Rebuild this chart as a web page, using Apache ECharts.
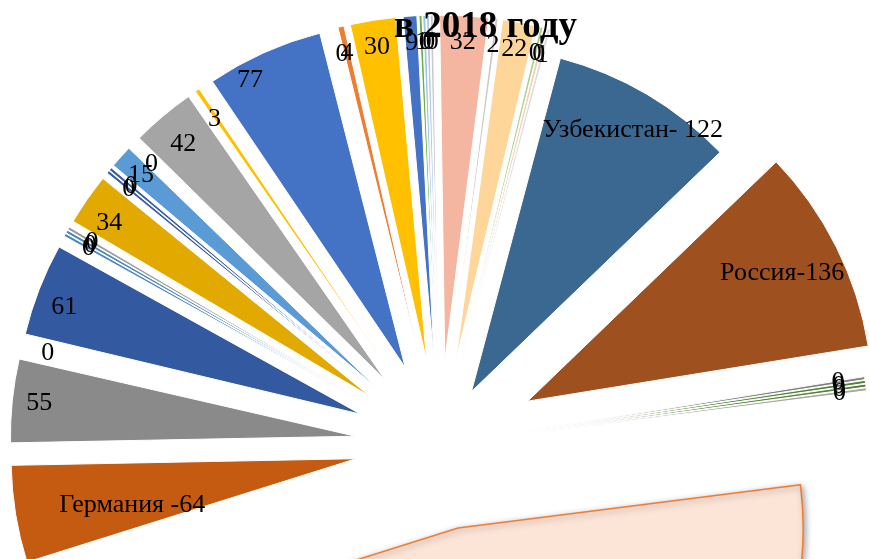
<!DOCTYPE html>
<html>
<head>
<meta charset="utf-8">
<script src="https://cdn.jsdelivr.net/npm/echarts@6.0.0/dist/echarts.min.js"></script>
<style>
  html, body { margin: 0; padding: 0; background: #fff; }
  #chart { width: 870px; height: 559px; }
</style>
</head>
<body>
<div id="chart"></div>
<script>
// Slices clockwise, starting with the large bottom slice (its label is off the picture)
const names = [
    null, 'Германия', null, null, null, null, null, null, null, null,
    null, null, null, null, null, null, null, null, null, null,
    null, null, null, null, null, null, null, null, null, null,
    'Узбекистан', 'Россия', null, null, null, null
];
const values = [
    665, 64, 55, 0, 61, 0, 0, 0, 34, 0,
    0, 15, 0, 42, 3, 77, 0, 4, 30, 9,
    1, 0, 0, 0, 32, 2, 22, 0, 0, 1,
    122, 136, 0, 0, 0, 0
];
const separators = { 'Германия': ' -', 'Узбекистан': '- ', 'Россия': '-' };

const colors = [
    '#FCE4D6', '#C55A11', '#8A8A8A', '#FFFFFF', '#335AA1', '#4A86C0', '#4A86C0', '#9C9C9C', '#E2AA00', '#3A5FAA',
    '#3A5FAA', '#5B9BD5', '#FFFFFF', '#A5A5A5', '#FFC000', '#4472C4', '#FFFFFF', '#ED7D31', '#FFC000', '#4472C4',
    '#70AD47', '#9DC3E6', '#B4C7E7', '#C9C9C9', '#F4B6A0', '#C9C9C9', '#FFD699', '#A9D18E', '#F8CBAD', '#DBDBDB',
    '#3A6891', '#9E501F', '#7F7F7F', '#548235', '#548235', '#A5A5A5'
];

// how far each slice is pulled out of the pie (px)
const explodeDefault = 85;
const explodeSpecial = { 30: 62, 31: 98 };
// small nudges for labels that Excel placed off the slice middle
const labelShift = {
    1: [90, -5], 4: [0, 8], 8: [0, 8], 13: [3, 7], 14: [2, 7],
    15: [-25, 3], 30: [0, 13], 31: [-30, 14]
};
const hiddenLabels = [0];

const groups = {};
values.forEach((v, i) => {
    const off = explodeSpecial[i] != null ? explodeSpecial[i] : explodeDefault;
    (groups[off] = groups[off] || []).push(i);
});

function labelText(i) {
    const n = names[i];
    return n ? n + separators[n] + values[i] : String(values[i]);
}

function makeSeries(offset, members, forLabels) {
    return {
        type: 'pie',
        center: [440, 445],
        radius: forLabels ? [300, 330] : [0, 345],
        startAngle: 7.2,
        clockwise: true,
        minAngle: 0.5,
        selectedMode: 'multiple',
        selectedOffset: offset,
        avoidLabelOverlap: false,
        animation: false,
        silent: true,
        z: forLabels ? 4 : 2,
        emphasis: { disabled: true },
        labelLine: { show: false },
        label: {
            show: forLabels,
            position: 'inside',
            color: '#000',
            fontFamily: 'Liberation Serif',
            fontSize: 26,
            formatter: p => labelText(p.dataIndex)
        },
        labelLayout: p => {
            const s = labelShift[p.dataIndex];
            return s ? { dx: s[0], dy: s[1] } : {};
        },
        data: values.map((v, i) => {
            const on = members.includes(i);
            let style;
            if (forLabels || !on) {
                style = { color: 'transparent', borderWidth: 0 };
            } else if (i === 0) {
                style = {
                    color: colors[i], borderColor: '#ED7D31', borderWidth: 1.5,
                    shadowBlur: 6, shadowColor: 'rgba(0,0,0,0.35)',
                    shadowOffsetX: 2, shadowOffsetY: 2
                };
            } else {
                style = { color: colors[i], borderColor: '#fff', borderWidth: 1 };
            }
            return {
                name: names[i] || ('s' + i),
                value: v,
                selected: on,
                itemStyle: style,
                label: { show: forLabels && on && !hiddenLabels.includes(i) }
            };
        })
    };
}

const series = [];
Object.keys(groups).forEach(off => series.push(makeSeries(+off, groups[off], false)));
Object.keys(groups).forEach(off => series.push(makeSeries(+off, groups[off], true)));

const chart = echarts.init(document.getElementById('chart'));
chart.setOption({
    backgroundColor: '#fff',
    animation: false,
    title: {
        text: 'в 2018 году',
        left: 389,
        top: 4,
        textStyle: {
            fontFamily: 'Liberation Serif',
            fontWeight: 'bold',
            fontSize: 37,
            color: '#000'
        }
    },
    series: series
});
</script>
</body>
</html>
